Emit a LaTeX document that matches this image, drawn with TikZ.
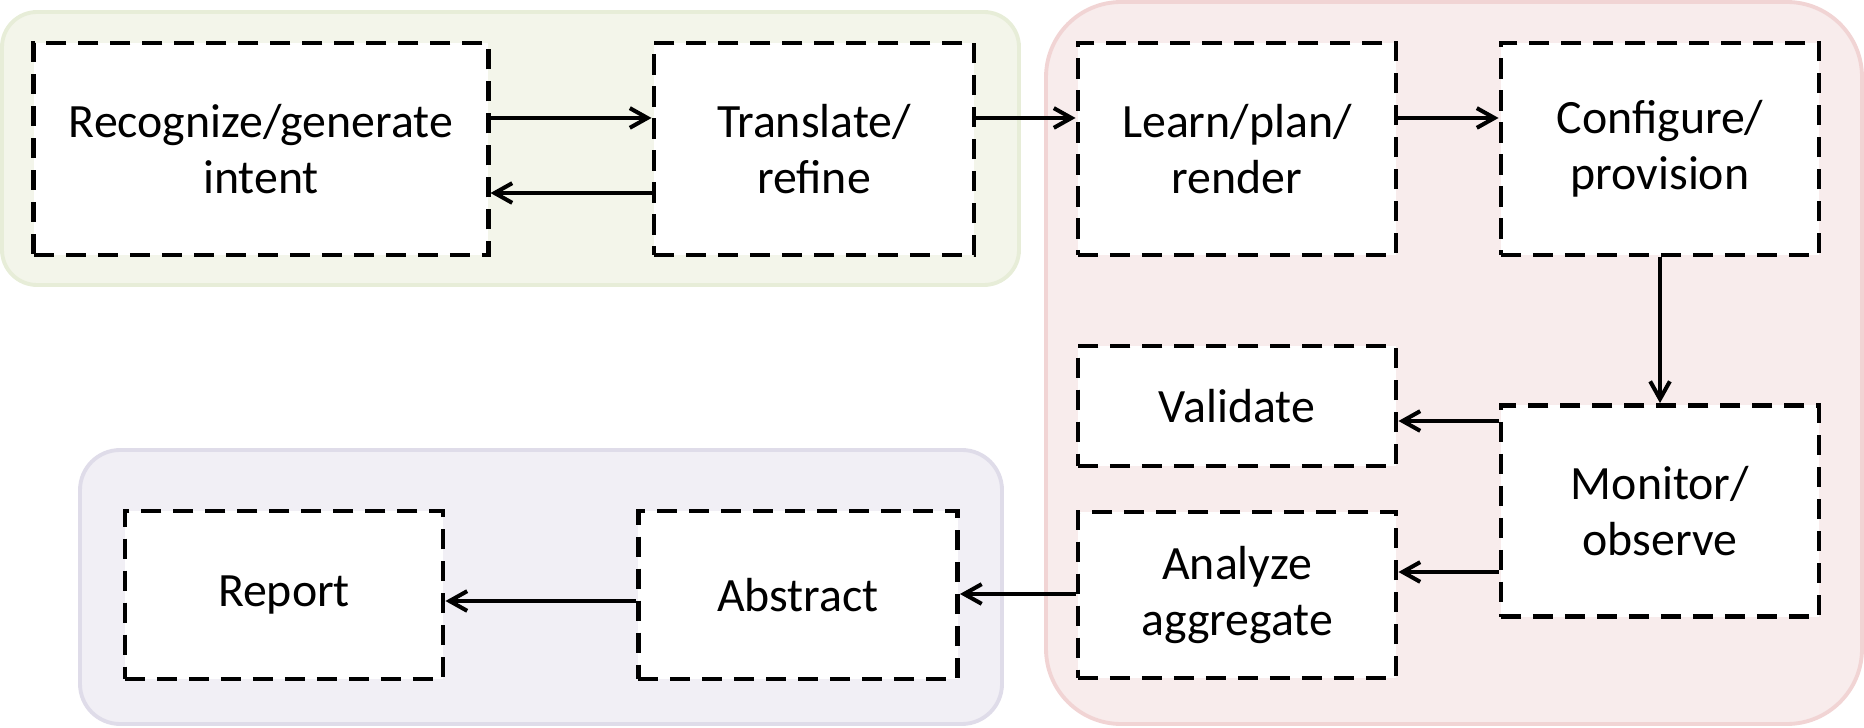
\documentclass[tikz,border=0pt]{standalone}
\usepackage{fontspec}
\setmainfont{Carlito}
\usepackage{tikz}
\usetikzlibrary{
    arrows.meta,
    positioning,
    calc
}

\definecolor{intentfill}{RGB}{243,245,234}
\definecolor{intentline}{RGB}{231,237,216}
\definecolor{actfill}{RGB}{248,236,236}
\definecolor{actline}{RGB}{241,212,212}
\definecolor{reportfill}{RGB}{241,239,245}
\definecolor{reportline}{RGB}{223,220,233}

\begin{document}
\begin{tikzpicture}[
    x=0.01cm, y=-0.01cm,
    task/.style={
      draw,
      fill=white,
      line width=1.35pt,
      dash pattern=on 5.7pt off 3.4pt,
      align=center,
      inner sep=0pt,
      font=\fontsize{13.6pt}{16pt}\selectfont
    },
    zone/.style={line width=1.1pt},
    flow/.style={-{Straight Barb[length=5pt,width=5.6pt]}, line width=1.15pt}
  ]

  \useasboundingbox (0,0) rectangle (1864,728);

  % zones {{{
  \draw[zone, fill=intentfill, draw=intentline, rounded corners=0.35cm]
    (2,12) rectangle (1019,285);
  \draw[zone, fill=actfill, draw=actline, rounded corners=0.75cm]
    (1046,2) rectangle (1862,724);
  \draw[zone, fill=reportfill, draw=reportline, rounded corners=0.4cm]
    (80,450) rectangle (1002,724);
  % }}}

  % top row {{{
  \node[
    task,
    minimum width=4.54cm,
    minimum height=2.12cm
  ] (recognize) at (261,149)
  {Recognize/generate\\intent};
  \node[
    task,
    minimum width=3.2cm,
    minimum height=2.12cm
  ] (translate) at (814,149)
  {Translate/\\refine};
  \node[
    task,
    minimum width=3.18cm,
    minimum height=2.12cm
  ] (learn) at (1237,149)
  {Learn/plan/\\render};
  \node[
    task,
    minimum width=3.18cm,
    minimum height=2.12cm
  ] (configure) at (1660,149)
  {Configure/\\provision};
  % }}}

  % right column {{{
  \node[
    task,
    minimum width=3.18cm,
    minimum height=2.11cm
  ] (monitor) at (1660,511)
  {Monitor/\\observe};
  \node[
    task,
    minimum width=3.18cm,
    minimum height=1.2cm
  ] (validate) at (1237,406)
  {Validate};
  \node[
    task,
    minimum width=3.18cm,
    minimum height=1.66cm
  ] (analyze) at (1237,595)
  {Analyze\\aggregate};
  % }}}

  % bottom row {{{
  \node[
    task,
    minimum width=3.19cm,
    minimum height=1.68cm
  ] (abstract) at (798,595)
  {Abstract};
  \node[
    task,
    minimum width=3.18cm,
    minimum height=1.68cm
  ] (report) at (284,595)
  {Report};
  % }}}

  % connectors {{{
  \draw[flow] ([yshift=0.31cm]recognize.east) -- ([yshift=0.31cm]translate.west);
  \draw[flow] ([yshift=-0.44cm]translate.west) -- ([yshift=-0.44cm]recognize.east);
  \draw[flow] ([yshift=0.31cm]translate.east) -- ([yshift=0.31cm]learn.west);
  \draw[flow] ([yshift=0.31cm]learn.east) -- ([yshift=0.31cm]configure.west);
  \draw[flow] (configure.south) -- (monitor.north);
  \draw[flow] (monitor.west |- 0,421) -- (validate.east |- 0,421);
  \draw[flow] (monitor.west |- 0,572) -- (analyze.east |- 0,572);
  \draw[flow] (analyze.west |- 0,594) -- (abstract.east |- 0,594);
  \draw[flow] (abstract.west |- 0,601) -- (report.east |- 0,601);
  % }}}

\end{tikzpicture}
\end{document}
